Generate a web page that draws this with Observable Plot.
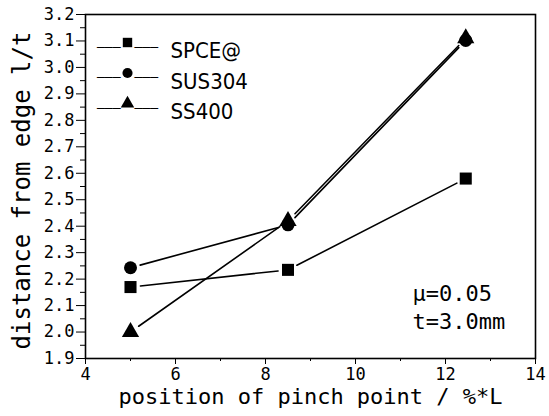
<!DOCTYPE html>
<html><head><meta charset="utf-8">
<script src="https://cdn.jsdelivr.net/npm/d3@7"></script>
<script src="https://cdn.jsdelivr.net/npm/@observablehq/plot@0.6"></script>
<style>body{margin:0;background:#fff;}</style>
</head><body><div id="chart"></div>
<script>
const xPos = [5, 8.5, 12.45];
const seriesNames = ["SPCE@", "SUS304", "SS400"];
const spce = [2.17, 2.235, 2.58];
const sus304 = [2.243, 2.405, 3.102];
const ss400 = [2.0, 2.42, 3.11];
const symbols = ["square", "circle", "triangle"];
const radii = [6.8, 6.5, 6.4];
const xTicks = [4, 6, 8, 10, 12, 14];
const xMinor = [5, 7, 9, 11, 13];
const yTicks = [1.9, 2.0, 2.1, 2.2, 2.3, 2.4, 2.5, 2.6, 2.7, 2.8, 2.9, 3.0, 3.1, 3.2];
const yMinor = [1.95, 2.05, 2.15, 2.25, 2.35, 2.45, 2.55, 2.65, 2.75, 2.85, 2.95, 3.05, 3.15];
const annotation = "μ=0.05\nt=3.0mm";
const xLabel = "position of pinch point / %*L";
const yLabel = "distance from edge l/t";

const allSeries = [spce, sus304, ss400];
const points = [];
const segs = [];
allSeries.forEach((vals, s) => {
  vals.forEach((v, i) => {
    points.push({series: seriesNames[s], x: xPos[i], y: v});
    if (i > 0) segs.push({series: seriesNames[s], x1: xPos[i-1], y1: vals[i-1], x2: xPos[i], y2: v});
  });
});

const font = "'DejaVu Sans Mono', monospace";
const marks = [
  Plot.frame({stroke: "black", strokeWidth: 1.6}),
  Plot.axisX({ticks: xTicks, tickSize: 6, tickPadding: 3, fontSize: 17, label: null, tickFormat: d3.format("d")}),
  Plot.axisX({ticks: xMinor, tickSize: 3, text: null, label: null}),
  Plot.axisY({ticks: yTicks, tickSize: 9, tickPadding: 2, fontSize: 17, label: null, tickFormat: d3.format(".1f")}),
  Plot.axisY({ticks: yMinor, tickSize: 5, text: null, label: null}),
  Plot.arrow(segs, {x1: "x1", y1: "y1", x2: "x2", y2: "y2", headLength: 0, insetStart: 10, insetEnd: 10, stroke: "black", strokeWidth: 1.6}),
];
seriesNames.forEach((name, s) => {
  marks.push(Plot.dot(points.filter(d => d.series === name), {x: "x", y: "y", symbol: () => symbols[s], r: radii[s], fill: "black", stroke: "none"}));
});
// legend
seriesNames.forEach((name, s) => {
  const dy = 28 + s * 30.5;
  marks.push(Plot.text(["───"], {frameAnchor: "top-left", dx: 35, dy: dy, fontSize: 13, fill: "black", textAnchor: "end", fontFamily: font}));
  marks.push(Plot.text(["───"], {frameAnchor: "top-left", dx: 49, dy: dy, fontSize: 13, fill: "black", textAnchor: "start", fontFamily: font}));
  marks.push(Plot.dot([name], {frameAnchor: "top-left", dx: 42, dy: dy, symbol: () => symbols[s], r: radii[s] * 0.78, fill: "black", stroke: "none"}));
  marks.push(Plot.text([name], {frameAnchor: "top-left", dx: 85, dy: dy, fontSize: 22, textAnchor: "start", fill: "black", fontFamily: "'DejaVu Sans Condensed', 'Liberation Sans Narrow', sans-serif"}));
});
marks.push(Plot.text([annotation], {frameAnchor: "bottom-right", dx: -123, dy: -30, fontSize: 22, textAnchor: "start", lineAnchor: "bottom", lineHeight: 1.25, fill: "black", fontFamily: font}));
marks.push(Plot.text([xLabel], {frameAnchor: "bottom", dy: 45, fontSize: 22, textAnchor: "middle", fill: "black", fontFamily: font}));
marks.push(Plot.text([yLabel], {frameAnchor: "left", dx: -63, dy: 4, rotate: -90, fontSize: 24, textAnchor: "middle", fill: "black", fontFamily: font}));

const chart = Plot.plot({
  width: 549, height: 416,
  marginLeft: 85, marginRight: 14, marginTop: 14, marginBottom: 58,
  x: {domain: [4, 14]},
  y: {domain: [1.9, 3.2]},
  style: {fontFamily: font, color: "black", background: "white", overflow: "visible"},
  marks
});
document.getElementById("chart").appendChild(chart);
</script></body></html>
